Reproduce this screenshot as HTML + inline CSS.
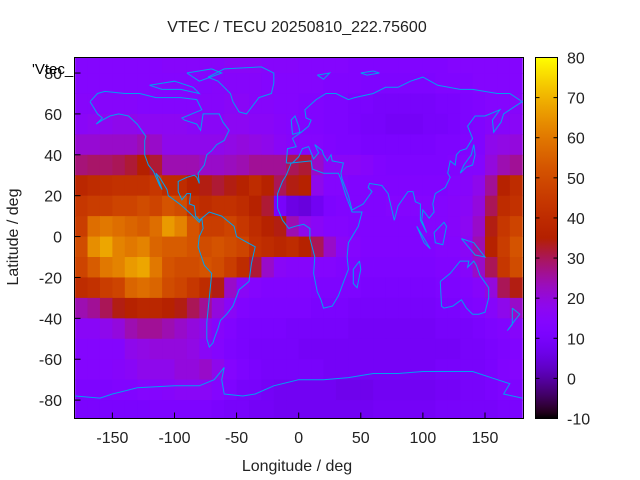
<!DOCTYPE html>
<html><head><meta charset="utf-8"><style>
html,body{margin:0;padding:0;background:#fff;}
svg{display:block;font-family:"Liberation Sans",Arial,sans-serif;}
</style></head><body>
<svg id="chart" width="640" height="480" viewBox="0 0 640 480" xmlns="http://www.w3.org/2000/svg">
<rect width="640" height="480" fill="#fff"/>
<text x="297" y="32" font-size="16" text-anchor="middle" fill="#222">VTEC / TECU 20250810_222.75600</text>
<g id="heat"></g>
<g id="coast"></g>
<rect x="74.5" y="57.5" width="449" height="361" fill="none" stroke="#000" stroke-width="1"/>
<g id="axes"></g>
<text x="32" y="74" font-size="15" fill="#000">'Vtec_</text>
<text x="297" y="471" font-size="16" text-anchor="middle" fill="#222">Longitude / deg</text>
<text x="18" y="237" font-size="16" text-anchor="middle" fill="#222" transform="rotate(-90 18 237)">Latitude / deg</text>
<defs><linearGradient id="cbg" x1="0" y1="1" x2="0" y2="0"></linearGradient></defs>
<rect x="535.5" y="57.5" width="22" height="361" fill="url(#cbg)" stroke="#000" stroke-width="1"/>
<g id="cbaxis"></g>
</svg>
<script>
const lonCenters = [-175,-165,-155,-145,-135,-125,-115,-105,-95,-85,-75,-65,-55,-45,-35,-25,-15,-5,5,15,25,35,45,55,65,75,85,95,105,115,125,135,145,155,165,175];
const latCenters = [85,75,65,55,45,35,25,15,5,-5,-15,-25,-35,-45,-55,-65,-75,-85];
const vtecRows = [
[14,14,14,14,14,14,14,15,15,15,15,15,16,16,16,15,15,15,14,14,14,14,13,13,13,13,13,13,13,13,14,14,14,14,14,14],
[14,14,14,14,14,14,14,14,14,14,14,15,15,15,15,14,14,14,14,14,13,13,13,12,12,12,12,12,12,13,13,13,14,14,14,14],
[15,15,15,15,15,14,14,14,14,14,15,15,16,16,15,15,14,14,13,13,12,12,11,11,10,10,10,10,10,11,11,12,13,14,14,15],
[16,17,17,18,18,17,17,17,17,16,16,16,17,17,16,16,15,14,13,13,12,12,11,10,10,9,9,9,10,10,11,12,13,15,15,16],
[21,21,22,22,22,24,22,18,18,18,18,18,19,20,19,18,16,15,14,14,13,12,12,11,11,11,11,11,11,12,12,13,13,18,19,20],
[28,29,29,30,32,35,32,24,24,24,22,22,23,24,26,26,26,30,32,22,16,16,16,15,13,12,12,12,12,12,13,14,14,20,24,26],
[38,40,41,42,42,42,44,40,40,36,34,32,34,36,40,36,30,34,36,18,14,14,13,13,13,13,13,13,13,13,14,15,18,26,36,40],
[44,46,46,48,48,50,48,52,50,42,40,42,42,40,36,32,10,6,5,8,12,13,13,13,13,14,14,14,14,14,15,16,20,30,40,42],
[46,58,60,58,56,54,58,66,62,52,46,46,48,44,40,36,34,24,18,16,14,14,13,13,13,13,13,13,14,14,15,17,22,34,44,48],
[50,64,68,62,60,62,56,54,54,52,50,52,50,48,42,40,38,40,36,30,22,16,14,13,13,13,13,13,13,14,14,16,24,36,46,52],
[48,54,60,62,66,68,60,52,50,50,52,50,46,40,32,22,16,15,15,14,14,13,13,12,12,12,12,12,12,13,13,15,22,30,44,50],
[40,42,46,48,56,58,56,50,48,44,40,34,22,16,14,13,13,13,13,12,12,12,12,11,11,11,11,11,11,12,12,13,15,20,30,34],
[24,26,30,34,36,38,38,36,34,30,26,20,16,13,12,12,12,12,12,11,11,11,10,10,10,10,10,10,10,11,11,12,13,15,18,22],
[16,16,18,20,24,26,26,24,22,20,18,15,13,11,11,11,11,10,10,10,10,10,9,9,9,9,9,9,9,10,10,10,11,12,13,15],
[14,14,14,14,18,19,20,20,20,19,16,14,12,11,10,10,10,10,9,9,9,9,9,9,9,9,9,9,9,9,9,10,10,11,12,13],
[14,14,14,15,16,18,18,18,20,20,22,18,14,12,11,10,10,10,10,10,9,9,9,9,9,9,9,9,9,10,10,10,10,11,13,14],
[12,12,12,13,13,14,14,15,16,16,16,14,12,10,10,9,8,8,8,8,8,7,7,7,8,8,8,8,8,9,9,10,10,11,12,12],
[11,11,11,11,11,11,12,12,12,12,12,11,10,10,9,9,8,8,8,8,8,8,8,8,9,9,9,9,9,10,10,10,10,10,11,11]
];
const xTicks = [-150,-100,-50,0,50,100,150];
const yTicks = [80,60,40,20,0,-20,-40,-60,-80];
const cbTicks = [80,70,60,50,40,30,20,10,0,-10];

const NS='http://www.w3.org/2000/svg';
const X0=74.5,X1=523.5,Y0=57.5,Y1=418.5;
const LON0=-180.5,LON1=181,LAT0=-89,LAT1=87.6;
const CMIN=-10,CMAX=80;
function xScale(lon){return X0+(lon-LON0)/(LON1-LON0)*(X1-X0);}
function yScale(lat){return Y1-(lat-LAT0)/(LAT1-LAT0)*(Y1-Y0);}
function cbScale(v){return Y1-(v-CMIN)/(CMAX-CMIN)*(Y1-Y0);}
function pal(v){let t=Math.max(0,Math.min(1,(v-CMIN)/(CMAX-CMIN)));
 const r=Math.sqrt(t),g=t*t*t,b=Math.max(0,Math.sin(2*Math.PI*t));
 return 'rgb('+Math.round(r*255)+','+Math.round(g*255)+','+Math.round(b*255)+')';}
function mk(tag,attrs,parent){const e=document.createElementNS(NS,tag);for(const k in attrs)e.setAttribute(k,attrs[k]);parent.appendChild(e);return e;}

const heat=document.getElementById('heat');
latCenters.forEach((lat,i)=>{lonCenters.forEach((lon,j)=>{
 const xa=Math.max(X0,xScale(lon-5)),xb=Math.min(X1,xScale(lon+5));
 const ya=Math.max(Y0,yScale(lat+5)),yb=Math.min(Y1,yScale(lat-5));
 const r=mk('rect',{x:xa,y:ya,width:xb-xa+0.5,height:yb-ya+0.5,fill:pal(vtecRows[i][j])},heat);
 
 
});});

const coasts=[
[[-168,66],[-162,70],[-156,71],[-140,70],[-128,70],[-115,68],[-95,68],[-82,67],[-78,62],[-94,58],[-92,57],[-82,55],[-79,52],[-77,60],[-70,60],[-64,60],[-61,56],[-56,52],[-60,47],[-66,45],[-70,42],[-74,40],[-76,35],[-81,31],[-80,26],[-82,29],[-84,30],[-90,29],[-97,27],[-97,22],[-94,18],[-90,21],[-87,21],[-88,16],[-84,15],[-83,10],[-80,8],[-78,9],[-80,7],[-85,10],[-92,14],[-96,16],[-105,20],[-106,23],[-112,29],[-115,31],[-110,23],[-112,25],[-117,32],[-121,35],[-124,40],[-124,47],[-123,49],[-130,55],[-137,59],[-145,60],[-152,59],[-158,57],[-163,55],[-158,58],[-162,60],[-165,63],[-168,66]],
[[-73,78],[-60,82],[-30,83],[-20,80],[-20,75],[-22,70],[-32,68],[-42,60],[-48,61],[-53,66],[-55,70],[-65,76],[-73,78]],
[[-120,74],[-100,76],[-85,73],[-80,70],[-95,72],[-110,72],[-120,74]],
[[-90,80],[-70,82],[-62,80],[-80,76],[-90,80]],
[[-78,9],[-72,12],[-62,10],[-52,5],[-50,0],[-44,-2],[-35,-5],[-38,-13],[-40,-22],[-48,-26],[-53,-34],[-58,-38],[-63,-41],[-65,-45],[-68,-50],[-69,-52],[-72,-54],[-74,-50],[-74,-42],[-72,-30],[-70,-18],[-76,-14],[-81,-5],[-80,0],[-77,4],[-78,9]],
[[-6,36],[10,37],[11,33],[20,31],[32,31],[34,28],[38,20],[43,12],[51,12],[48,5],[40,-3],[39,-10],[40,-16],[35,-24],[32,-29],[27,-34],[20,-35],[18,-31],[15,-27],[12,-18],[13,-10],[9,-1],[9,4],[4,6],[-3,5],[-8,4],[-13,8],[-17,14],[-17,21],[-13,27],[-10,30],[-6,36]],
[[49,-12],[50,-16],[47,-25],[44,-23],[44,-16],[49,-12]],
[[-10,36],[-9,43],[-2,44],[-5,48],[2,51],[8,54],[10,57],[6,58],[5,62],[14,67],[22,70],[30,70],[40,67],[45,68],[60,70],[70,73],[80,73],[90,76],[100,78],[112,74],[130,72],[140,72],[160,70],[170,70],[180,66],[175,64],[165,60],[163,56],[157,51],[156,57],[162,62],[150,59],[142,59],[136,54],[140,48],[135,43],[130,42],[127,40],[126,35],[122,37],[120,31],[122,29],[118,24],[110,21],[108,16],[109,12],[105,9],[100,13],[99,8],[103,2],[98,8],[98,16],[94,17],[92,22],[88,22],[80,15],[77,8],[72,21],[67,25],[57,26],[56,24],[59,22],[52,16],[43,13],[40,20],[35,28],[34,31],[36,36],[27,37],[26,40],[23,37],[20,40],[19,42],[13,45],[16,41],[12,38],[8,44],[3,43],[0,39],[-5,36],[-10,36]],
[[114,-22],[122,-18],[130,-12],[137,-12],[136,-15],[141,-12],[143,-14],[146,-19],[153,-25],[153,-30],[150,-37],[145,-38],[140,-38],[135,-35],[131,-31],[124,-34],[117,-35],[115,-34],[114,-22]],
[[-180,-78],[-160,-79],[-150,-77],[-130,-74],[-100,-73],[-80,-73],[-68,-70],[-60,-64],[-62,-70],[-60,-77],[-45,-78],[-35,-77],[-20,-73],[0,-70],[20,-70],[40,-69],[60,-67],[80,-67],[100,-66],[120,-66],[140,-66],[160,-70],[170,-72],[165,-77],[180,-79]],
[[-5,50],[1,51],[0,54],[-3,59],[-6,57],[-5,50]],
[[130,31],[135,34],[140,35],[142,40],[141,45],[139,40],[133,35],[130,31]],
[[172,-35],[178,-38],[174,-41],[168,-46],[172,-43],[172,-35]],
[[109,2],[117,7],[119,5],[116,-4],[110,-3],[109,2]],
[[95,5],[106,-6],[101,-3],[95,5]],
[[131,-1],[141,-3],[150,-10],[142,-9],[131,-1]],
[[50,80],[60,81],[65,80],[55,79],[50,80]],
[[15,79],[25,80],[20,77],[15,79]]
];
const cg=document.getElementById('coast');
coasts.forEach(poly=>{
 const p=mk('polyline',{points:poly.map(q=>xScale(q[0]).toFixed(1)+','+yScale(q[1]).toFixed(1)).join(' '),fill:'none',stroke:'#00a0f0','stroke-width':1},cg);
 
 
});

const ax=document.getElementById('axes');
xTicks.forEach(v=>{const x=xScale(v);
 const l=mk('line',{x1:x,y1:Y1,x2:x,y2:Y1-6,stroke:'#000'},ax);
 
 
 const t=mk('text',{x:x,y:443,'font-size':16,'text-anchor':'middle',fill:'#222'},ax);t.textContent=v;
 
 
});
yTicks.forEach(v=>{const y=yScale(v);
 const l=mk('line',{x1:X0,y1:y,x2:X0+6,y2:y,stroke:'#000'},ax);
 
 
 const t=mk('text',{x:62,y:y+6,'font-size':16,'text-anchor':'end',fill:'#222'},ax);t.textContent=v;
 
 
});

const grad=document.getElementById('cbg');
for(let i=0;i<=60;i++){const v=CMIN+(CMAX-CMIN)*i/60;
 mk('stop',{offset:(i/60*100)+'%','stop-color':pal(v)},grad);}
const cb=document.getElementById('cbaxis');
cbTicks.forEach(v=>{const y=cbScale(v);
 const l1=mk('line',{x1:535.5,y1:y,x2:539.5,y2:y,stroke:'#000'},cb);
 
 
 const l2=mk('line',{x1:553.5,y1:y,x2:557.5,y2:y,stroke:'#000'},cb);
 
 
 const t=mk('text',{x:567,y:y+6,'font-size':16,fill:'#222'},cb);t.textContent=v;
 
 
});
</script>
</body></html>
